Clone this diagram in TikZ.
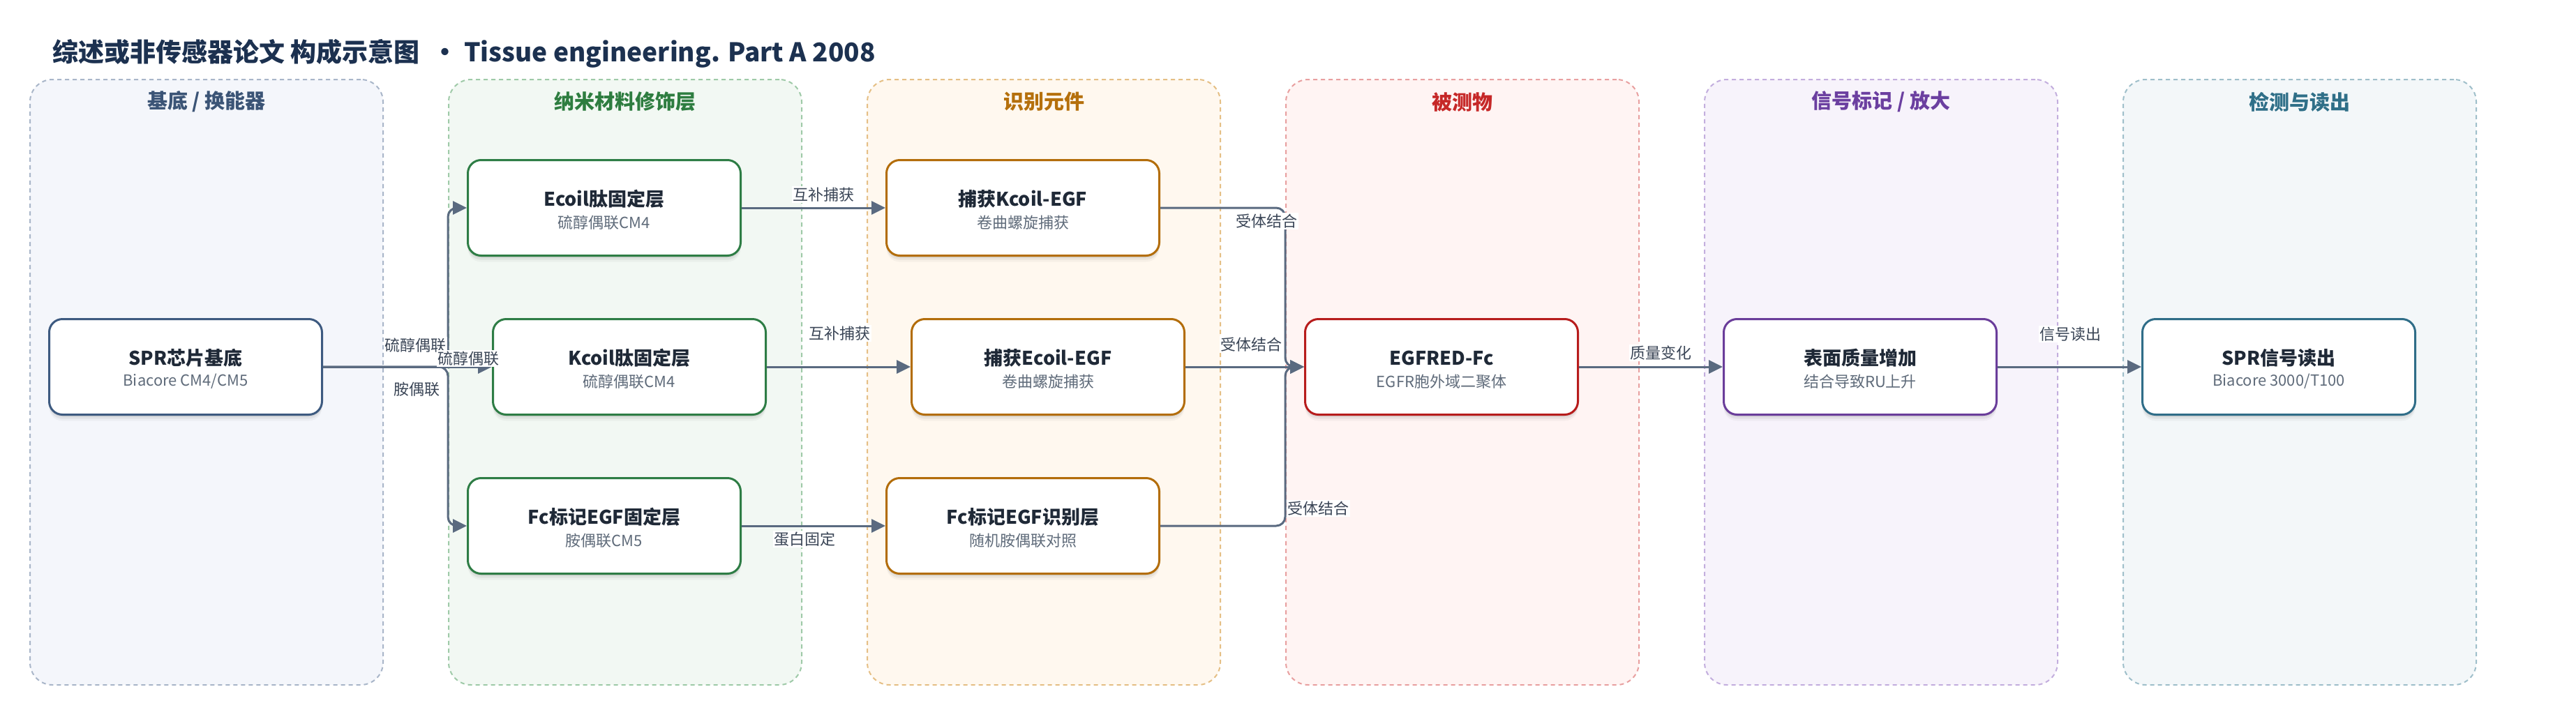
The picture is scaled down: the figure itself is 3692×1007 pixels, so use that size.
\documentclass[tikz,border=0pt]{standalone}
\usepackage{fontspec}
\setmainfont{Noto Sans CJK SC}
\usetikzlibrary{arrows.meta,shadows}
\newcommand\fsz[1]{\fontsize{#1}{#1}\selectfont}
\definecolor{edgec}{HTML}{5A6A80}
\definecolor{lblc}{HTML}{3A4556}
\definecolor{titlec}{HTML}{1C3150}
\definecolor{btc}{HTML}{1F2937}
\definecolor{bsc}{HTML}{5F6B7A}
% lane colours
\definecolor{l1d}{HTML}{A9B6C9}\definecolor{l1f}{HTML}{F4F6FB}\definecolor{l1t}{HTML}{3B5476}\definecolor{l1b}{HTML}{3D5A80}
\definecolor{l2d}{HTML}{9FCAA8}\definecolor{l2f}{HTML}{F2F8F3}\definecolor{l2t}{HTML}{2E7D40}\definecolor{l2b}{HTML}{2E7D45}
\definecolor{l3d}{HTML}{E5BF85}\definecolor{l3f}{HTML}{FFF8EF}\definecolor{l3t}{HTML}{B5700C}\definecolor{l3b}{HTML}{B36D0A}
\definecolor{l4d}{HTML}{E8A0A0}\definecolor{l4f}{HTML}{FFF4F3}\definecolor{l4t}{HTML}{C62828}\definecolor{l4b}{HTML}{B71C1C}
\definecolor{l5d}{HTML}{C3AEDE}\definecolor{l5f}{HTML}{F7F3FB}\definecolor{l5t}{HTML}{6B3FA0}\definecolor{l5b}{HTML}{6A3D9A}
\definecolor{l6d}{HTML}{9FBFCA}\definecolor{l6f}{HTML}{F3F7F9}\definecolor{l6t}{HTML}{2F6F88}\definecolor{l6b}{HTML}{2F6D88}
\tikzset{
  lane/.style n args={2}{draw=#1, fill=#2, dash pattern=on 6pt off 5pt, line width=2pt,
    rounded corners=32pt, minimum width=506pt, minimum height=868pt, inner sep=0pt},
  lanetitle/.style={text=#1, font=\fsz{29}\bfseries, inner sep=0pt},
  box/.style={draw=#1, fill=white, line width=3pt, rounded corners=19pt,
    minimum width=391pt, minimum height=137pt, inner sep=0pt,
    drop shadow={shadow xshift=0pt, shadow yshift=-3pt, opacity=0.07, fill=black},
    drop shadow={shadow xshift=0pt, shadow yshift=-6pt, opacity=0.05, fill=black},
    drop shadow={shadow xshift=0pt, shadow yshift=-9pt, opacity=0.03, fill=black}},
  btitle/.style={text=btc, font=\fsz{27}\bfseries, inner sep=0pt},
  bsub/.style={text=bsc, font=\fsz{22}, inner sep=0pt},
  edge/.style={draw=edgec, line width=3pt, rounded corners=13pt,
    -{Triangle[length=20pt,width=19pt]}},
  elabel/.style={fill=white, text=lblc, font=\fsz{22}, inner sep=1.5pt},
}
\begin{document}
\begin{tikzpicture}[x=1pt,y=-1pt]
\useasboundingbox (0,0) rectangle (3692,1007);
\fill[white] (0,0) rectangle (3692,1007);
% title
\node[anchor=west, text=titlec, font=\fsz{37}\bfseries, inner sep=0pt] (title) at (75,77)
  {综述或非传感器论文 构成示意图\hspace{0.48em}•\hspace{0.24em}Tissue engineering. Part A 2008};
% lanes
\node[lane={l1d}{l1f}] (lane1) at (296,548) {};
\node[lane={l2d}{l2f}] (lane2) at (896,548) {};
\node[lane={l3d}{l3f}] (lane3) at (1496,548) {};
\node[lane={l4d}{l4f}] (lane4) at (2096,548) {};
\node[lane={l5d}{l5f}] (lane5) at (2696,548) {};
\node[lane={l6d}{l6f}] (lane6) at (3296,548) {};
\node[lanetitle=l1t] (lt1) at (296,146) {基底 / 换能器};
\node[lanetitle=l2t] (lt2) at (896,146) {纳米材料修饰层};
\node[lanetitle=l3t] (lt3) at (1496,146) {识别元件};
\node[lanetitle=l4t] (lt4) at (2096,146) {被测物};
\node[lanetitle=l5t] (lt5) at (2696,146) {信号标记 / 放大};
\node[lanetitle=l6t] (lt6) at (3296,146) {检测与读出};
% boxes
\node[box=l1b] (spr) at (266,526) {};
\node[box=l2b] (ecoil) at (866,298) {};
\node[box=l2b] (kcoil) at (902,526) {};
\node[box=l2b] (fcimm) at (866,754) {};
\node[box=l3b] (capk) at (1466,298) {};
\node[box=l3b] (cape) at (1502,526) {};
\node[box=l3b] (fcrec) at (1466,754) {};
\node[box=l4b] (egfr) at (2066,526) {};
\node[box=l5b] (mass) at (2666,526) {};
\node[box=l6b] (read) at (3266,526) {};
% box texts
\node[btitle] (spr-t) at ([yshift=13pt]spr.center) {SPR芯片基底};
\node[bsub] (spr-s) at ([yshift=-21pt]spr.center) {Biacore CM4/CM5};
\node[btitle] (ecoil-t) at ([yshift=13pt]ecoil.center) {Ecoil肽固定层};
\node[bsub] (ecoil-s) at ([yshift=-21pt]ecoil.center) {硫醇偶联CM4};
\node[btitle] (kcoil-t) at ([yshift=13pt]kcoil.center) {Kcoil肽固定层};
\node[bsub] (kcoil-s) at ([yshift=-21pt]kcoil.center) {硫醇偶联CM4};
\node[btitle] (fcimm-t) at ([yshift=13pt]fcimm.center) {Fc标记EGF固定层};
\node[bsub] (fcimm-s) at ([yshift=-21pt]fcimm.center) {胺偶联CM5};
\node[btitle] (capk-t) at ([yshift=13pt]capk.center) {捕获Kcoil-EGF};
\node[bsub] (capk-s) at ([yshift=-21pt]capk.center) {卷曲螺旋捕获};
\node[btitle] (cape-t) at ([yshift=13pt]cape.center) {捕获Ecoil-EGF};
\node[bsub] (cape-s) at ([yshift=-21pt]cape.center) {卷曲螺旋捕获};
\node[btitle] (fcrec-t) at ([yshift=13pt]fcrec.center) {Fc标记EGF识别层};
\node[bsub] (fcrec-s) at ([yshift=-21pt]fcrec.center) {随机胺偶联对照};
\node[btitle] (egfr-t) at ([yshift=13pt]egfr.center) {EGFRED-Fc};
\node[bsub] (egfr-s) at ([yshift=-21pt]egfr.center) {EGFR胞外域二聚体};
\node[btitle] (mass-t) at ([yshift=13pt]mass.center) {表面质量增加};
\node[bsub] (mass-s) at ([yshift=-21pt]mass.center) {结合导致RU上升};
\node[btitle] (read-t) at ([yshift=13pt]read.center) {SPR信号读出};
\node[bsub] (read-s) at ([yshift=-21pt]read.center) {Biacore 3000/T100};
% junctions
\coordinate (jl) at (642,526);
\coordinate (jr) at (1842,526);
% edges
\draw[edge] (spr.east) -- (jl) |- (ecoil.west);
\draw[edge] (spr.east) -- (kcoil.west);
\draw[edge] (spr.east) -- (jl) |- (fcimm.west);
\draw[edge] (ecoil.east) -- (capk.west);
\draw[edge] (kcoil.east) -- (cape.west);
\draw[edge] (fcimm.east) -- (fcrec.west);
\draw[edge] (capk.east) -| (jr) -- (egfr.west);
\draw[edge] (cape.east) -- (egfr.west);
\draw[edge] (fcrec.east) -| (jr) -- (egfr.west);
\draw[edge] (egfr.east) -- (mass.west);
\draw[edge] (mass.east) -- (read.west);
% edge labels
\node[elabel] (e1) at (595,495) {硫醇偶联};
\node[elabel] (e2) at (671,514) {硫醇偶联};
\node[elabel] (e3) at (597,558) {胺偶联};
\node[elabel] (e4) at (1180,279) {互补捕获};
\node[elabel] (e5) at (1203,478) {互补捕获};
\node[elabel] (e6) at (1153,773) {蛋白固定};
\node[elabel] (e7) at (1815,317) {受体结合};
\node[elabel] (e8) at (1793,494) {受体结合};
\node[elabel] (e9) at (1889,729) {受体结合};
\node[elabel] (e10) at (2380,506) {质量变化};
\node[elabel] (e11) at (2967,479) {信号读出};
\end{tikzpicture}
\end{document}
